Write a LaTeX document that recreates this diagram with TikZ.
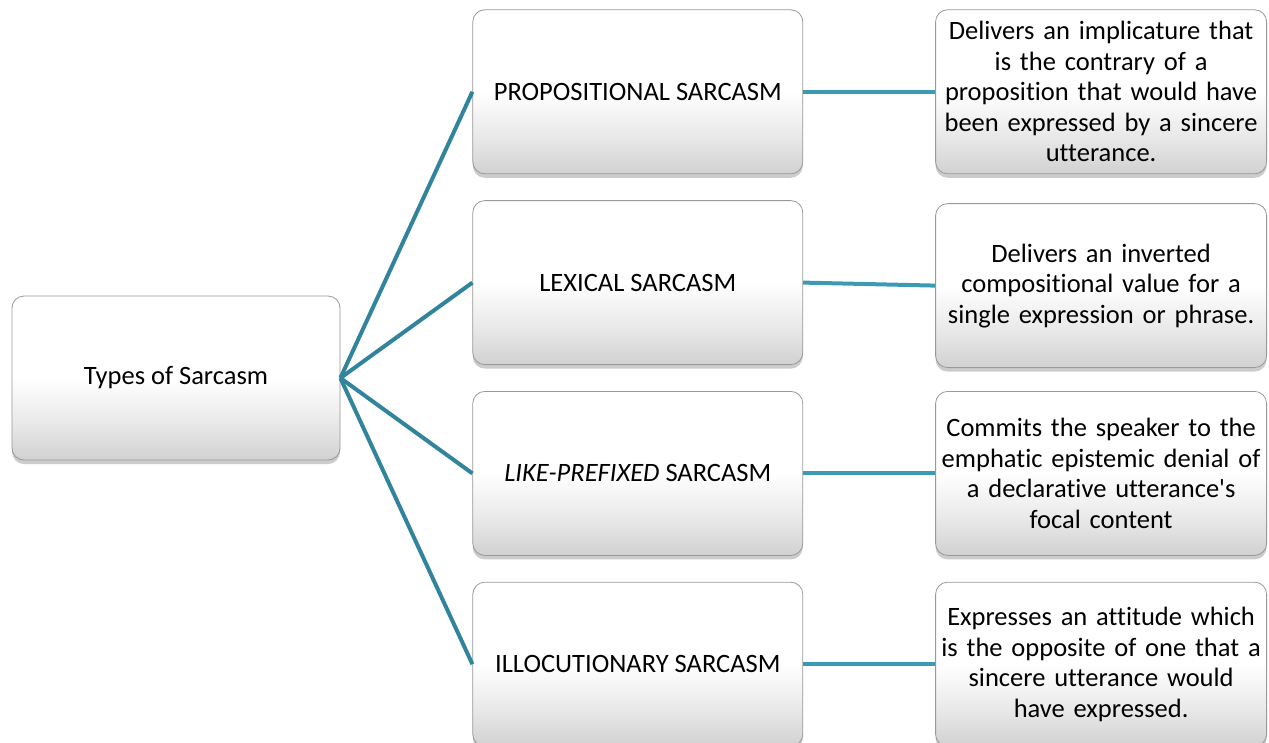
\documentclass[tikz,border=0pt]{standalone}
\usepackage{fontspec}
\setmainfont{Carlito}[Ligatures=NoCommon]
\usetikzlibrary{positioning,shadows}
\definecolor{linkteal}{HTML}{31849B}
\definecolor{linkteal2}{HTML}{3D9AB4}
\pgfdeclareverticalshading{glossy}{100bp}{color(0bp)=(black!18); color(25bp)=(black!18); color(36bp)=(black!9); color(50bp)=(white); color(100bp)=(white)}

\begin{document}
\begin{tikzpicture}[font=\fontsize{26.5}{30.5}\selectfont, every node/.style={inner sep=4pt}]
        \tikzset{
            box/.style={draw=black!40, line width=0.8pt, rounded corners=12pt, shading=glossy, drop shadow={opacity=0.4, shadow xshift=0pt, shadow yshift=-4pt}, align=center, minimum width=330pt, minimum height=164pt},
            info/.style={box, minimum width=331pt, text width=320pt},
            link/.style={linkteal, line width=4pt},
            link2/.style={linkteal2, line width=4pt}
        }
        \useasboundingbox (0,0) rectangle (1269pt,-742pt);
        \node[box, minimum width=328pt] (root) at (176pt,-378pt) {Types of Sarcasm};
        \node[box, above right=13pt and 132pt of root.east] (lex) {LEXICAL SARCASM};
        \node[box, above=26pt of lex] (prop) {PROPOSITIONAL SARCASM};
        \node[box, below=26pt of lex] (like) {\textit{LIKE-PREFIXED} SARCASM};
        \node[box, below=26pt of like] (illoc) {ILLOCUTIONARY SARCASM};
        \node[info, right=132pt of prop] (propinfo) {Delivers an implicature that\\is the contrary of a\\proposition that would have\\been expressed by a sincere\\utterance.};
        \node[info, right=132pt of lex, yshift=-3pt] (lexinfo) {Delivers an inverted\\compositional value for a\\single expression or phrase.};
        \node[info, right=132pt of like] (likeinfo) {Commits the speaker to the\\emphatic epistemic denial of\\a declarative utterance\textquotesingle s\\focal content};
        \node[info, right=132pt of illoc] (illocinfo) {Expresses an attitude which\\is the opposite of one that a\\sincere utterance would\\have expressed.};
        \draw[link] (root.east) -- (prop.west);
        \draw[link] (root.east) -- (lex.west);
        \draw[link] (root.east) -- (like.west);
        \draw[link] (root.east) -- (illoc.west);
        \draw[link2] (prop.east) -- (propinfo.west);
        \draw[link2] (lex.east) -- (lexinfo.west);
        \draw[link2] (like.east) -- (likeinfo.west);
        \draw[link2] (illoc.east) -- (illocinfo.west);
    \end{tikzpicture}
\end{document}
